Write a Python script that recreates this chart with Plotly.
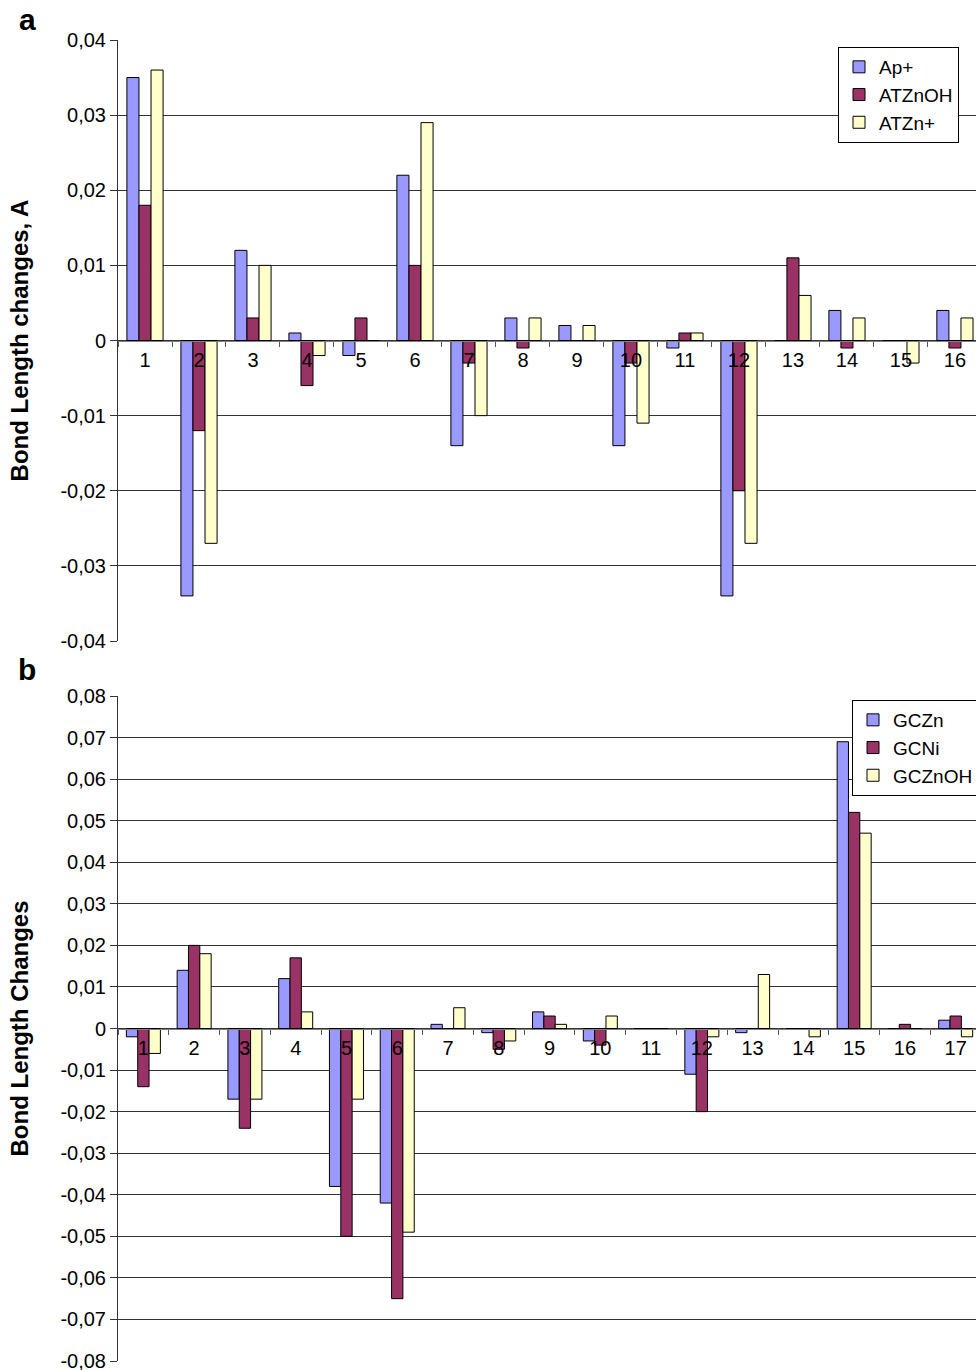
import plotly.graph_objects as go

# ---------------- data ----------------
cats_a = [str(i) for i in range(1, 17)]
ap_plus = [0.035, -0.034, 0.012, 0.001, -0.002, 0.022, -0.014, 0.003, 0.002, -0.014, -0.001, -0.034, 0.0, 0.004, 0.0, 0.004]
atznoh = [0.018, -0.012, 0.003, -0.006, 0.003, 0.010, -0.003, -0.001, 0.0, -0.003, 0.001, -0.020, 0.011, -0.001, 0.0, -0.001]
atzn_plus = [0.036, -0.027, 0.010, -0.002, 0.0, 0.029, -0.010, 0.003, 0.002, -0.011, 0.001, -0.027, 0.006, 0.003, -0.003, 0.003]

cats_b = [str(i) for i in range(1, 18)]
gczn = [-0.002, 0.014, -0.017, 0.012, -0.038, -0.042, 0.001, -0.001, 0.004, -0.003, 0.0, -0.011, -0.001, 0.0, 0.069, 0.0, 0.002]
gcni = [-0.014, 0.020, -0.024, 0.017, -0.050, -0.065, 0.0, -0.005, 0.003, -0.004, 0.0, -0.020, 0.0, 0.0, 0.052, 0.001, 0.003]
gcznoh = [-0.006, 0.018, -0.017, 0.004, -0.017, -0.049, 0.005, -0.003, 0.001, 0.003, 0.0, -0.002, 0.013, -0.002, 0.047, 0.0, -0.002]

yticks_a = [0.04, 0.03, 0.02, 0.01, 0, -0.01, -0.02, -0.03, -0.04]
ytext_a = ["0,04", "0,03", "0,02", "0,01", "0", "-0,01", "-0,02", "-0,03", "-0,04"]
yticks_b = [0.08, 0.07, 0.06, 0.05, 0.04, 0.03, 0.02, 0.01, 0, -0.01, -0.02, -0.03, -0.04, -0.05, -0.06, -0.07, -0.08]
ytext_b = ["0,08", "0,07", "0,06", "0,05", "0,04", "0,03", "0,02", "0,01", "0",
           "-0,01", "-0,02", "-0,03", "-0,04", "-0,05", "-0,06", "-0,07", "-0,08"]

# ---------------- style ----------------
BLUE, MAROON, YELLOW = "#9999FF", "#993366", "#FFFFCC"
FONT = "Liberation Sans, Arial, Helvetica, sans-serif"
W, H = 976, 1370

fig = go.Figure()
for name, vals, col in [("Ap+", ap_plus, BLUE), ("ATZnOH", atznoh, MAROON), ("ATZn+", atzn_plus, YELLOW)]:
    fig.add_trace(go.Bar(x=cats_a, y=vals, name=name, marker=dict(color=col, line=dict(color="black", width=1)),
                         xaxis="x", yaxis="y", legend="legend"))
for name, vals, col in [("GCZn", gczn, BLUE), ("GCNi", gcni, MAROON), ("GCZnOH", gcznoh, YELLOW)]:
    fig.add_trace(go.Bar(x=cats_b, y=vals, name=name, marker=dict(color=col, line=dict(color="black", width=1)),
                         xaxis="x2", yaxis="y2", legend="legend2"))

dom_a = [1 - 641 / H, 1 - 40 / H]
dom_b = [1 - 1361 / H, 1 - 696 / H]
rng_a = [-0.04, 0.04]
rng_b = [-0.08, 0.08]


def zero_pos(dom, rng):
    return dom[0] + (0 - rng[0]) / (rng[1] - rng[0]) * (dom[1] - dom[0])


xdom = [118 / W, 1]
common_x = dict(type="category", showgrid=False, showline=True, linecolor="#808080", linewidth=1,
                ticks="outside", tickson="boundaries", ticklen=5, tickcolor="#555",
                tickfont=dict(family=FONT, size=20, color="black"), anchor="free", layer="above traces",
                ticklabelstandoff=1, automargin=False)
common_y = dict(showgrid=True, gridcolor="#333", gridwidth=1, zeroline=False, showline=True,
                linecolor="#333", linewidth=1, ticks="outside", ticklen=7, tickcolor="#333",
                tickfont=dict(family=FONT, size=20, color="black"), automargin=False,
                ticklabeloverflow="allow")

legend_common = dict(xref="container", yref="container", xanchor="left", yanchor="top", bgcolor="white",
                     bordercolor="black", borderwidth=1, font=dict(family=FONT, size=19),
                     itemwidth=30, tracegroupgap=0)

fig.update_layout(
    width=W, height=H, margin=dict(l=0, r=0, t=0, b=0, autoexpand=False),
    paper_bgcolor="white", plot_bgcolor="white",
    barmode="group", bargap=0.33, bargroupgap=0,
    font=dict(family=FONT, color="black"),
    xaxis=dict(common_x, domain=xdom, range=[-0.5, 15.39], position=zero_pos(dom_a, rng_a)),
    yaxis=dict(common_y, domain=dom_a, range=rng_a, tickvals=yticks_a, ticktext=ytext_a, anchor="x",
               title=dict(text="<b>Bond Length changes, A</b>", font=dict(size=24, family=FONT), standoff=25)),
    xaxis2=dict(common_x, domain=xdom, range=[-0.5, 16.4], position=zero_pos(dom_b, rng_b)),
    yaxis2=dict(common_y, domain=dom_b, range=rng_b, tickvals=yticks_b, ticktext=ytext_b, anchor="x2",
                title=dict(text="<b>Bond Length Changes</b>", font=dict(size=24, family=FONT), standoff=25)),
    legend=dict(legend_common, x=838 / W, y=1 - 47 / H),
    legend2=dict(legend_common, x=852 / W, y=1 - 700 / H),
    showlegend=True,
    annotations=[
        dict(text="<b>a</b>", x=27 / W, y=1 - 19 / H, xref="paper", yref="paper", showarrow=False,
             font=dict(family=FONT, size=30), xanchor="center", yanchor="middle"),
        dict(text="<b>b</b>", x=27 / W, y=1 - 670 / H, xref="paper", yref="paper", showarrow=False,
             font=dict(family=FONT, size=30), xanchor="center", yanchor="middle"),
    ],
)

fig.write_html("out.html", config={"displayModeBar": False},
               post_script="document.body.style.margin='0';document.body.style.overflow='hidden';")
